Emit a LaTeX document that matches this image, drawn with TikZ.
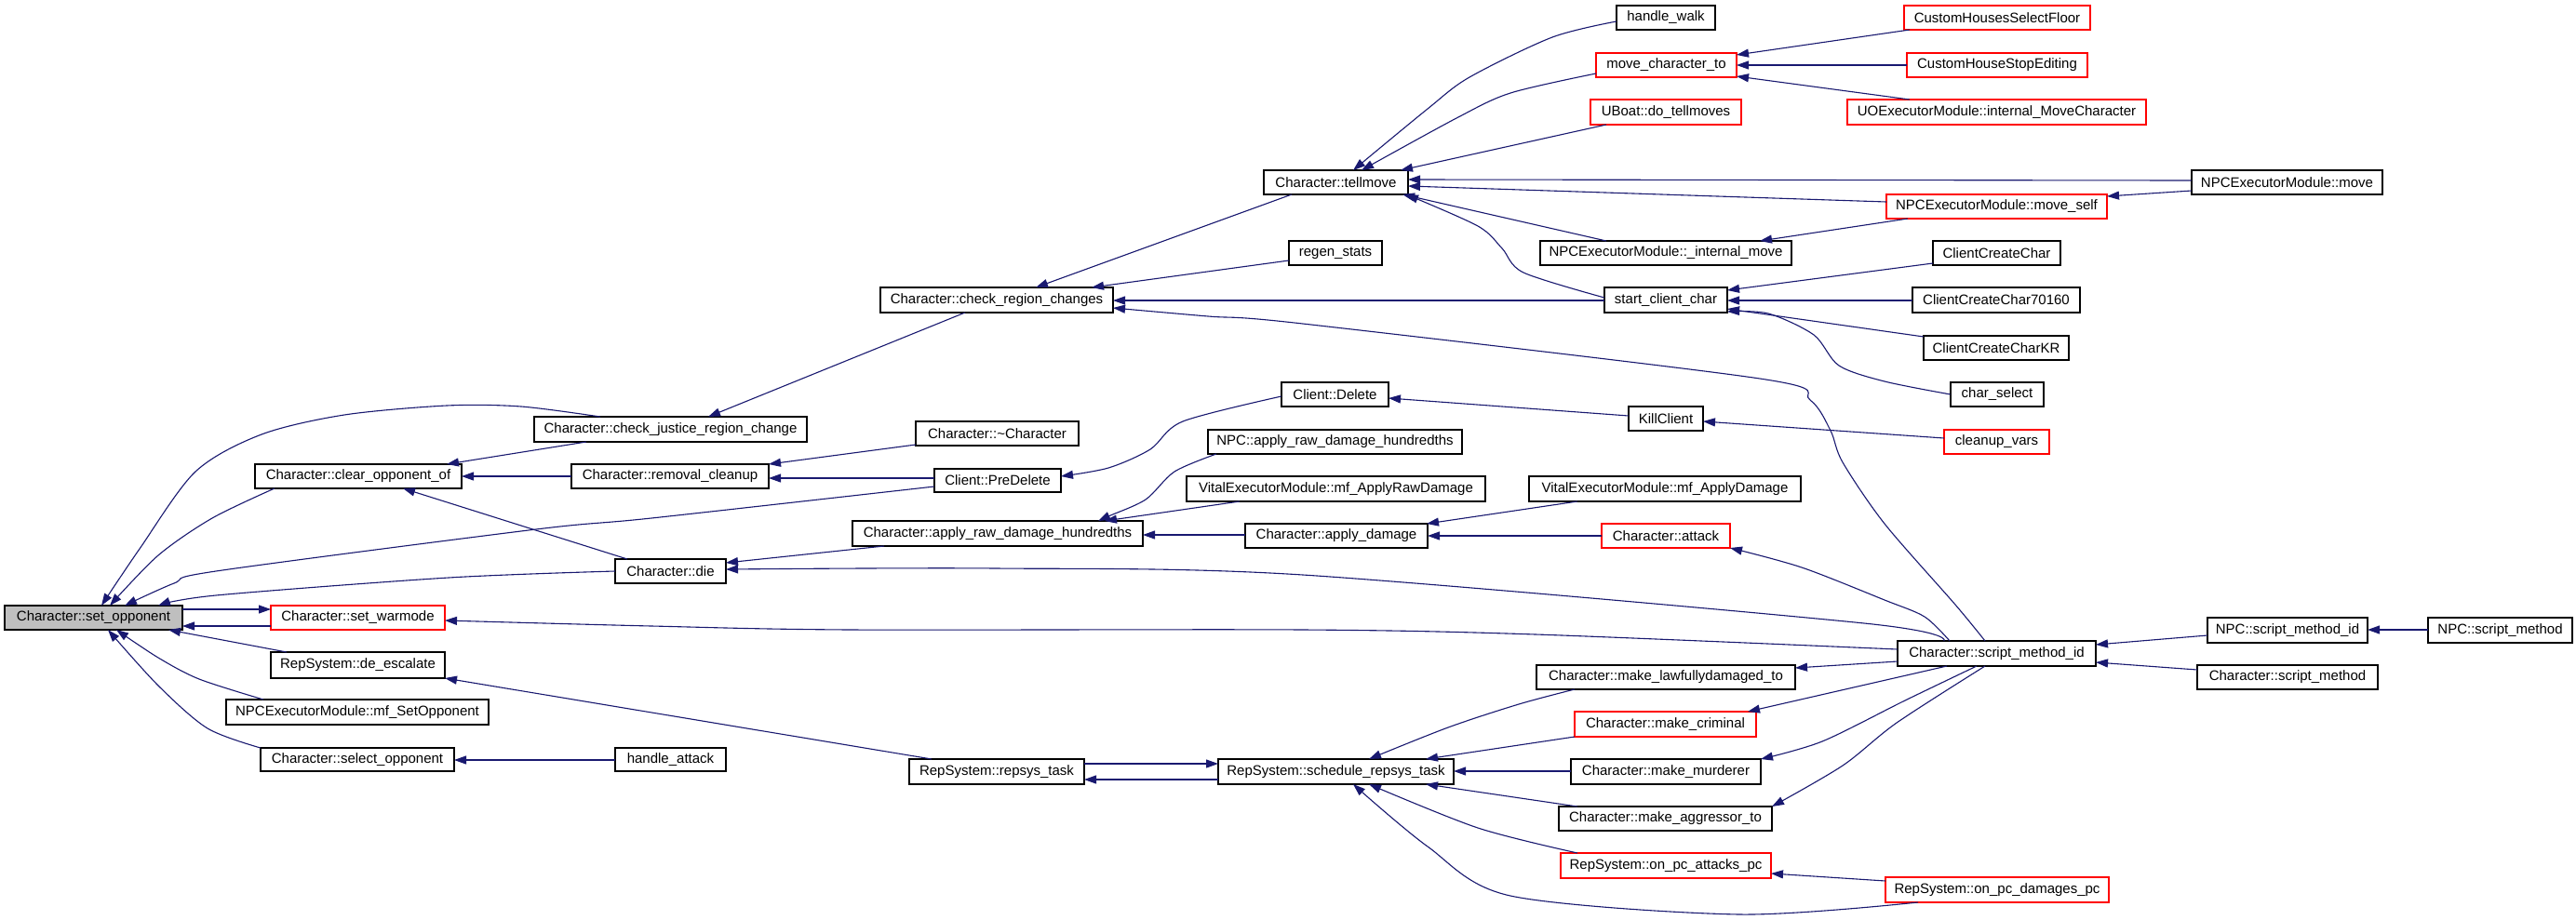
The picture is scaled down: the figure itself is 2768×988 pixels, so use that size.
\documentclass[tikz,border=0pt]{standalone}
\usepackage{fontspec}
\setmainfont{Liberation Sans}
\usetikzlibrary{arrows.meta}
\definecolor{edgecol}{HTML}{191970}
\definecolor{curfill}{HTML}{BFBFBF}
\newcommand{\gbox}[7]{\node[#6, minimum width={(#4-#2)*1pt}, minimum height={(#5-#3)*1pt}] (#1) at ({(#2+#4)/2},{(#3+#5)/2}) {#7};}
\begin{document}
\begin{tikzpicture}[x=1pt,y=-1pt,
  box/.style={draw=black, fill=white, line width=1.3pt, inner sep=0pt, outer sep=0pt, font=\fontsize{15}{18}\selectfont, text=black},
  rbox/.style={box, draw=red},
  curbox/.style={box, fill=curfill},
  edge/.style={draw=edgecol, line width=1.1pt, -{Triangle[length=13pt,width=9pt]}},
  sm/.style={smooth, tension=0.5}]
\useasboundingbox[fill=white] (0,0) rectangle (2768,988);
% nodes
\gbox{setop}{5}{651}{196}{677}{curbox}{Character::set\_opponent}
\gbox{warm}{291}{651}{478}{677}{rbox}{Character::set\_warmode}
\gbox{deesc}{291}{701}{478}{729}{box}{RepSystem::de\_escalate}
\gbox{mfset}{243}{752}{525}{779}{box}{NPCExecutorModule::mf\_SetOpponent}
\gbox{selop}{280}{804}{488}{829}{box}{Character::select\_opponent}
\gbox{hatt}{661}{804}{780}{829}{box}{handle\_attack}
\gbox{clear}{274}{499}{496}{525}{box}{Character::clear\_opponent\_of}
\gbox{cjust}{574}{448}{867}{475}{box}{Character::check\_justice\_region\_change}
\gbox{remcl}{614}{499}{826}{525}{box}{Character::removal\_cleanup}
\gbox{die}{661}{601}{780}{627}{box}{Character::die}
\gbox{dtor}{984}{453}{1159}{479}{box}{Character::\textasciitilde Character}
\gbox{pred}{1004}{504}{1140}{529}{box}{Client::PreDelete}
\gbox{arawh}{916}{560}{1228}{587}{box}{Character::apply\_raw\_damage\_hundredths}
\gbox{cdel}{1377}{411}{1492}{437}{box}{Client::Delete}
\gbox{npcraw}{1298}{462}{1571}{488}{box}{NPC::apply\_raw\_damage\_hundredths}
\gbox{vraw}{1275}{512}{1596}{539}{box}{VitalExecutorModule::mf\_ApplyRawDamage}
\gbox{adam}{1338}{563}{1534}{589}{box}{Character::apply\_damage}
\gbox{crc}{946}{309}{1196}{336}{box}{Character::check\_region\_changes}
\gbox{tell}{1358}{183}{1513}{209}{box}{Character::tellmove}
\gbox{regen}{1385}{259}{1485}{285}{box}{regen\_stats}
\gbox{hwalk}{1737}{6}{1843}{32}{box}{handle\_walk}
\gbox{mct}{1715}{57}{1866}{83}{rbox}{move\_character\_to}
\gbox{uboat}{1709}{107}{1871}{134}{rbox}{UBoat::do\_tellmoves}
\gbox{intmove}{1655}{259}{1925}{285}{box}{NPCExecutorModule::\_internal\_move}
\gbox{scc}{1724}{309}{1856}{336}{box}{start\_client\_char}
\gbox{chsf}{2046}{6}{2246}{32}{rbox}{CustomHousesSelectFloor}
\gbox{chse}{2049}{57}{2243}{83}{rbox}{CustomHouseStopEditing}
\gbox{uoem}{1985}{107}{2306}{134}{rbox}{UOExecutorModule::internal\_MoveCharacter}
\gbox{mself}{2027}{209}{2264}{235}{rbox}{NPCExecutorModule::move\_self}
\gbox{npcmove}{2355}{183}{2560}{209}{box}{NPCExecutorModule::move}
\gbox{ccc}{2077}{259}{2214}{285}{box}{ClientCreateChar}
\gbox{cc70}{2055}{309}{2235}{336}{box}{ClientCreateChar70160}
\gbox{cckr}{2067}{361}{2223}{387}{box}{ClientCreateCharKR}
\gbox{csel}{2096}{411}{2196}{437}{box}{char\_select}
\gbox{cvars}{2089}{462}{2202}{488}{rbox}{cleanup\_vars}
\gbox{kill}{1750}{437}{1830}{463}{box}{KillClient}
\gbox{vdam}{1643}{512}{1935}{539}{box}{VitalExecutorModule::mf\_ApplyDamage}
\gbox{attack}{1721}{563}{1859}{589}{rbox}{Character::attack}
\gbox{smid}{2039}{689}{2252}{716}{box}{Character::script\_method\_id}
\gbox{npcsmid}{2372}{664}{2544}{691}{box}{NPC::script\_method\_id}
\gbox{npcsm}{2609}{664}{2764}{691}{box}{NPC::script\_method}
\gbox{csm}{2361}{715}{2555}{741}{box}{Character::script\_method}
\gbox{pcdam}{2026}{943}{2266}{970}{rbox}{RepSystem::on\_pc\_damages\_pc}
\gbox{repsys}{977}{816}{1165}{843}{box}{RepSystem::repsys\_task}
\gbox{sched}{1309}{816}{1562}{843}{box}{RepSystem::schedule\_repsys\_task}
\gbox{lawful}{1651}{715}{1929}{741}{box}{Character::make\_lawfullydamaged\_to}
\gbox{crim}{1692}{765}{1887}{792}{rbox}{Character::make\_criminal}
\gbox{murd}{1688}{816}{1892}{843}{box}{Character::make\_murderer}
\gbox{aggr}{1675}{867}{1904}{893}{box}{Character::make\_aggressor\_to}
\gbox{pcatt}{1677}{917}{1903}{944}{rbox}{RepSystem::on\_pc\_attacks\_pc}
% edges into set_opponent
\draw[edge] plot[sm] coordinates {([xshift=71pt]cjust.north west) (560,437) (480,436) (370,446) (281,467) (210,507) (150,590) ([xshift=104pt]setop.north west)};
\draw[edge] plot[sm] coordinates {([xshift=21pt]clear.south west) (228,557) (170,597) ([xshift=113pt]setop.north west)};
\draw[edge] plot[sm] coordinates {([yshift=-19pt]pred.north west) (700,557) (576,569) (232,614) (187,627) ([xshift=129pt]setop.north west)};
\draw[edge] plot[sm] coordinates {([yshift=-13pt]die.north west) (482,621) (232,640) ([xshift=165pt]setop.north west)};
\draw[edge] ([yshift=-22pt]warm.north west) -- ([yshift=-22pt]setop.north east);
\draw[edge] ([yshift=-4pt]setop.north east) -- ([yshift=-4pt]warm.north west);
\draw[edge] ([xshift=17pt]deesc.north west) -- ([xshift=176pt]setop.south west);
\draw[edge] plot[sm] coordinates {([xshift=40pt]mfset.north west) (214,730) (170,707) ([xshift=120pt]setop.south west)};
\draw[edge] plot[sm] coordinates {(selop.north west) (223,783) (170,737) ([xshift=111pt]setop.south west)};
% clear_opponent_of
\draw[edge] ([xshift=56pt]cjust.south west) -- ([xshift=206pt]clear.north west);
\draw[edge] ([yshift=-13pt]remcl.north west) -- ([yshift=-13pt]clear.north east);
\draw[edge] ([xshift=13pt]die.north west) -- ([xshift=159pt]clear.south west);
% check_region_changes and justice
\draw[edge] ([xshift=91pt]crc.south west) -- ([xshift=187pt]cjust.north west);
\draw[edge] ([xshift=30pt]tell.south west) -- ([xshift=167pt]crc.north west);
\draw[edge] ([yshift=-21pt]regen.north west) -- ([xshift=227pt]crc.north west);
\draw[edge] ([yshift=-14pt]scc.north west) -- ([yshift=-14pt]crc.north east);
\draw[edge] plot[sm] coordinates {([xshift=94pt]smid.north west) (2101,650) (2025,563) (1980,497) (1967,463) (1945,430) (1891,407) (1400,348) (1298,340) ([yshift=-22pt]crc.north east)};
% tellmove
\draw[edge] plot[sm] coordinates {([yshift=-17pt]hwalk.north west) (1668,40) (1579,83) (1534,117) ([xshift=96pt]tell.north west)};
\draw[edge] plot[sm] coordinates {([yshift=-22pt]mct.north west) (1623,100) (1565,127) ([xshift=105pt]tell.north west)};
\draw[edge] ([xshift=17pt]uboat.south west) -- ([xshift=147pt]tell.north west);
\draw[edge] ([yshift=-11pt]npcmove.north west) -- ([yshift=-10pt]tell.north east);
\draw[edge] ([yshift=-8pt]mself.north west) -- ([yshift=-17pt]tell.north east);
\draw[edge] ([xshift=71pt]intmove.north west) -- ([xshift=-6pt]tell.south east);
\draw[edge] plot[sm] coordinates {([yshift=-11pt]scc.north west) (1637,293) (1614,267) (1588,243) ([xshift=-2pt]tell.south east)};
% move_character_to
\draw[edge] ([xshift=6pt]chsf.south west) -- ([yshift=-2pt]mct.north east);
\draw[edge] ([yshift=-13pt]chse.north west) -- ([yshift=-13pt]mct.north east);
\draw[edge] ([xshift=67pt]uoem.north west) -- ([yshift=-25pt]mct.north east);
% move_self, _internal_move
\draw[edge] ([yshift=-22pt]npcmove.north west) -- ([yshift=-2pt]mself.north east);
\draw[edge] ([xshift=23pt]mself.south west) -- ([xshift=236pt]intmove.north west);
% start_client_char
\draw[edge] ([yshift=-24pt]ccc.north west) -- ([yshift=-3pt]scc.north east);
\draw[edge] ([yshift=-14pt]cc70.north west) -- ([yshift=-14pt]scc.north east);
\draw[edge] ([yshift=-1pt]cckr.north west) -- ([yshift=-23pt]scc.north east);
\draw[edge] plot[sm] coordinates {([yshift=-13pt]csel.north west) (2025,410) (1976,393) (1949,360) (1900,337) ([yshift=-26pt]scc.north east)};
% Client side
\draw[edge] ([yshift=-10pt]kill.north west) -- ([yshift=-17pt]cdel.north east);
\draw[edge] ([yshift=-9pt]cvars.north west) -- ([yshift=-16pt]kill.north east);
\draw[edge] plot[sm] coordinates {([yshift=-15pt]cdel.north west) (1271,453) (1236,483) (1191,503) ([yshift=-8pt]pred.north east)};
\draw[edge] ([yshift=-25pt]dtor.north west) -- (remcl.north east);
\draw[edge] ([yshift=-10pt]pred.north west) -- ([yshift=-15pt]remcl.north east);
% die
\draw[edge] ([xshift=34pt]arawh.south west) -- ([yshift=-4pt]die.north east);
\draw[edge] plot[sm] coordinates {([xshift=50pt]smid.north west) (2003,670) (1400,618) (1070,611) ([yshift=-11pt]die.north east)};
% apply_raw_damage_hundredths
\draw[edge] plot[sm] coordinates {([xshift=9pt]npcraw.south west) (1262,507) (1231,537) (1191,555) ([xshift=-48pt]arawh.north east)};
\draw[edge] ([xshift=57pt]vraw.south west) -- ([xshift=-41pt]arawh.north east);
\draw[edge] ([yshift=-12pt]adam.north west) -- ([yshift=-15pt]arawh.north east);
% apply_damage
\draw[edge] ([xshift=52pt]vdam.south west) -- ([xshift=-1pt]adam.north east);
\draw[edge] ([yshift=-13pt]attack.north west) -- ([yshift=-13pt]adam.north east);
\draw[edge] plot[sm] coordinates {([xshift=56pt]smid.north west) (2068,663) (2025,645) (1936,610) (attack.south east)};
% set_warmode
\draw[edge] plot[sm] coordinates {([yshift=-9pt]smid.north west) (1650,682) (1400,677) (914,677) (700,673) ([yshift=-16pt]warm.north east)};
% de_escalate, select_opponent
\draw[edge] ([xshift=24pt]repsys.north west) -- (deesc.south east);
\draw[edge] ([yshift=-13pt]hatt.north west) -- ([yshift=-13pt]selop.north east);
% repsys
\draw[edge] ([yshift=-22pt]sched.north west) -- ([yshift=-22pt]repsys.north east);
\draw[edge] ([yshift=-5pt]repsys.north east) -- ([yshift=-5pt]sched.north west);
% schedule_repsys_task
\draw[edge] plot[sm] coordinates {([xshift=41pt]lawful.south west) (1632,757) (1556,782) ([xshift=162pt]sched.north west)};
\draw[edge] (crim.south west) -- ([xshift=-30pt]sched.north east);
\draw[edge] ([yshift=-13pt]murd.north west) -- ([yshift=-13pt]sched.north east);
\draw[edge] ([xshift=20pt]aggr.north west) -- ([xshift=-30pt]sched.south east);
\draw[edge] plot[sm] coordinates {([xshift=18pt]pcatt.north west) (1588,890) ([xshift=162pt]sched.south west)};
\draw[edge] plot[sm] coordinates {([xshift=35pt]pcdam.south west) (1869,983) (1623,963) (1534,910) ([xshift=145pt]sched.south west)};
% from script_method_id
\draw[edge] ([yshift=-22pt]smid.north west) -- ([yshift=-3pt]lawful.north east);
\draw[edge] ([xshift=53pt]smid.south west) -- ([xshift=-9pt]crim.north east);
\draw[edge] plot[sm] coordinates {([xshift=85pt]smid.south west) (2047,753) (1958,797) (murd.north east)};
\draw[edge] plot[sm] coordinates {([xshift=94pt]smid.south west) (2038,777) (1980,823) (aggr.north east)};
\draw[edge] ([yshift=-4pt]pcdam.north west) -- ([yshift=-22pt]pcatt.north east);
% script_method_id callers
\draw[edge] ([yshift=-19pt]npcsmid.north west) -- ([yshift=-4pt]smid.north east);
\draw[edge] ([yshift=-5pt]csm.north west) -- ([yshift=-23pt]smid.north east);
\draw[edge] ([yshift=-13pt]npcsm.north west) -- ([yshift=-13pt]npcsmid.north east);
\end{tikzpicture}
\end{document}
